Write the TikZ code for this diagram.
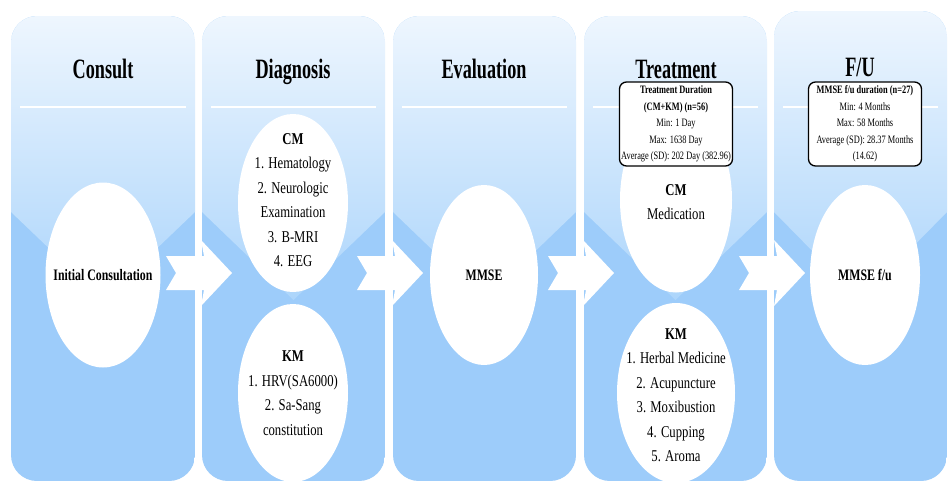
\documentclass[tikz,border=0pt]{standalone}
\usepackage{fontspec}
\setmainfont{Liberation Serif}
\newfontfamily\ttlfont[FakeStretch=0.65]{Liberation Serif}
\newfontfamily\lblfont[FakeStretch=0.74]{Liberation Serif}
\newfontfamily\txtfont[FakeStretch=0.77]{Liberation Serif}
\newfontfamily\boxfont[FakeStretch=0.74]{Liberation Serif}
\usetikzlibrary{shapes.geometric}
\definecolor{topblue}{RGB}{238,246,254}
\definecolor{glossblue}{RGB}{172,213,251}
\definecolor{lowblue}{RGB}{157,204,250}
\newcommand{\drawpanel}[3]{%
  \begin{scope}
    \clip[rounded corners=26pt] (#1,#3) rectangle (#2,481);
    \fill[lowblue] (#1,#3) rectangle (#2,481);
    \shade[top color=topblue, bottom color=glossblue]
      (#1,#3) -- (#2,#3) -- (#2,212) -- ({(#1+#2)/2},300) -- (#1,212) -- cycle;
  \end{scope}
  \draw[sepline] (#1+9,107) -- (#2-9,107);
}
\newcommand{\notcharrow}[1]{%
  \fill[white] (#1-66,256) -- (#1-28,256) -- (#1-31,240) -- (#1,273)
    -- (#1-31,306) -- (#1-28,290) -- (#1-66,290) -- (#1-56,273) -- cycle;
}
\begin{document}
\begin{tikzpicture}[x=1pt,y=-1pt,
  sepline/.style={white, line width=1.6pt},
  ttl/.style={font=\ttlfont\bfseries\fontsize{28}{30}\selectfont, inner sep=0pt, anchor=base},
  oval/.style={ellipse, fill=white, inner sep=0pt},
  otext/.style={inner sep=0pt, align=center,
    font=\txtfont\fontsize{16.5}{24.5}\selectfont},
  olabel/.style={inner sep=0pt, font=\lblfont\bfseries\fontsize{16}{18}\selectfont},
  infobox/.style={draw=black, line width=1.3pt, rounded corners=7pt, fill=white,
    minimum width=113pt, minimum height=84pt, inner sep=0pt, align=center,
    font=\boxfont\fontsize{11.3}{16.6}\selectfont}]
\useasboundingbox (0,0) rectangle (948,483);
\fill[white] (0,0) rectangle (948,483);

\drawpanel{11}{195}{16}
\drawpanel{202}{385}{16}
\drawpanel{393}{576}{16}
\drawpanel{584}{767}{16}
\drawpanel{774}{947}{11}

\node[ttl] (t1) at (103,78) {Consult};
\node[ttl] (t2) at (293,78) {Diagnosis};
\node[ttl] (t3) at (484,78) {Evaluation};
\node[ttl] (t4) at (676,78) {Treatment};
\node[ttl] (t5) at (860,76) {F/U};

\node[oval, minimum width=115pt, minimum height=185pt] (e1) at (103,275) {};
\node[oval, minimum width=110pt, minimum height=178pt] (e2a) at (293,203) {};
\node[oval, minimum width=110pt, minimum height=178pt] (e2b) at (293,393) {};
\node[oval, minimum width=108pt, minimum height=180pt] (e3) at (484,275) {};
\node[oval, minimum width=112pt, minimum height=185pt] (e4a) at (676,200) {};
\node[oval, minimum width=118pt, minimum height=180pt] (e4b) at (676,393) {};
\node[oval, minimum width=110pt, minimum height=180pt] (e5) at (865,275) {};

\node[olabel] (l1) at (e1.center) {Initial Consultation};
\node[otext] (l2a) at (293,200)
  {\textbf{CM}\\1. Hematology\\2. Neurologic\\Examination\\3. B-MRI\\4. EEG};
\node[otext] (l2b) at (293,393)
  {\textbf{KM}\\1. HRV(SA6000)\\2. Sa-Sang\\constitution};
\node[olabel] (l3) at (e3.center) {MMSE};
\node[otext] (l4a) at (676,202) {\textbf{CM}\\Medication};
\node[otext] (l4b) at (676,395)
  {\textbf{KM}\\1. Herbal Medicine\\2. Acupuncture\\3. Moxibustion\\4. Cupping\\5. Aroma};
\node[olabel] (l5) at (e5.center) {MMSE f/u};

\node[infobox] (b4) at (676,124)
  {\textbf{Treatment Duration}\\\textbf{(CM+KM) (n=56)}\\Min: 1 Day\\Max: 1638 Day\\Average (SD): 202 Day (382.96)};
\node[infobox] (b5) at (865,124)
  {\textbf{MMSE f/u duration (n=27)}\\Min: 4 Months\\Max: 58 Months\\Average (SD): 28.37 Months\\(14.62)};

\notcharrow{232}
\notcharrow{423}
\notcharrow{614}
\notcharrow{805}
\end{tikzpicture}
\end{document}
